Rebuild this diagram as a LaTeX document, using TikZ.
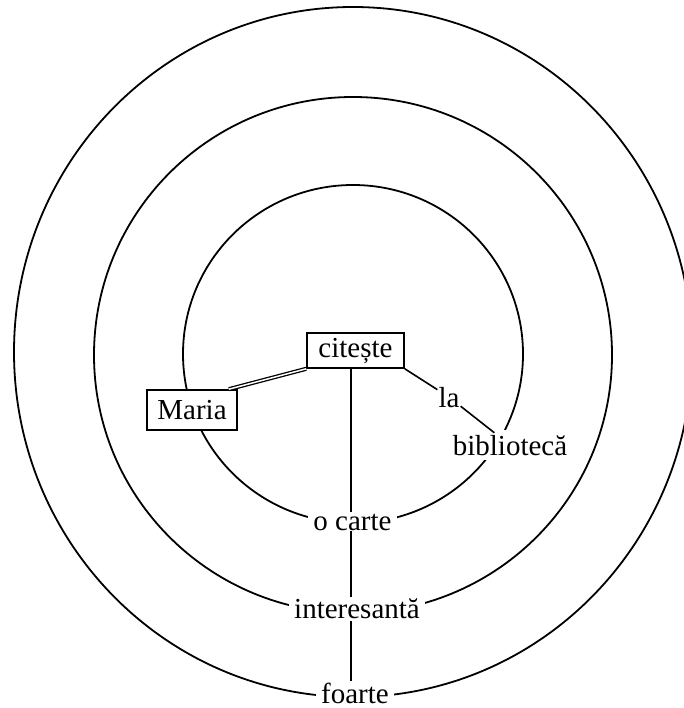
\documentclass[tikz,border=0pt]{standalone}
\usepackage{fontspec}
\setmainfont{Liberation Serif}
\begin{document}
\begin{tikzpicture}[x=1pt,y=-1pt,
  ring/.style={line width=1.8pt},
  wordfont/.style={font=\fontsize{29}{34}\selectfont},
  wordbox/.style={wordfont, draw, line width=1.6pt, fill=white, inner sep=0pt},
  word/.style={wordfont, fill=white, inner sep=5pt, anchor=base},
  link/.style={line width=1.6pt},
  dlink/.style={line width=1.3pt, double, double distance=1.5pt}]
\useasboundingbox (0,0) rectangle (683,708);
% concentric rings
\draw[ring] (353,352) ellipse [x radius=339, y radius=345];
\draw[ring] (353,355) ellipse [x radius=259, y radius=258];
\draw[ring] (353,354) ellipse [x radius=170, y radius=169];
% nodes
\node[wordbox, minimum width=97pt, minimum height=35pt] (citeste) at (355.5,350.5) {citește};
\node[wordbox, minimum width=90pt, minimum height=40pt] (maria) at (192,410) {Maria};
\node[wordfont, inner sep=1pt, anchor=base] (la) at (449,407) {la};
\node[word] (biblioteca) at (510,455) {bibliotecă};
\node[word] (ocarte) at (352.5,530) {o carte};
\node[word] (interesanta) at (357,618) {interesantă};
\node[word] (foarte) at (355,703) {foarte};
% connectors
\draw[dlink] (citeste.south west) -- ([xshift=-9pt]maria.north east);
\draw[link] (citeste.south east) -- (la);
\draw[link, shorten >=-5pt] (la) -- (biblioteca);
\draw[link, shorten >=-4pt] (citeste.south -| ocarte.north) ++(-1.5,0) coordinate (vtop) -- (vtop |- ocarte.north);
\draw[link, shorten <=-4pt, shorten >=-4pt] (vtop |- ocarte.south) -- (vtop |- interesanta.north);
\draw[link, shorten <=-2pt, shorten >=-4pt] (vtop |- interesanta.south) -- (vtop |- foarte.north);
\end{tikzpicture}
\end{document}
